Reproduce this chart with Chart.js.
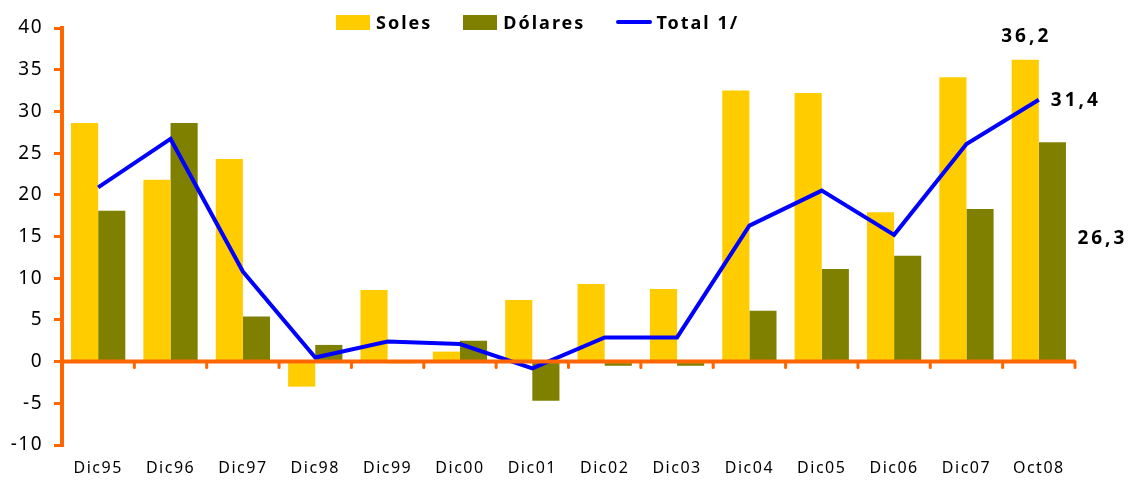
<!DOCTYPE html>
<html lang="es">
<head>
  <meta charset="UTF-8">
  <title>Soles, Dólares y Total</title>
  <script src="https://cdn.jsdelivr.net/npm/chart.js"></script>
  <style>
    body {
      margin: 0;
      background: #fff;
      font-family: "Noto Sans", Arial, sans-serif;
    }
    .wrap {
      position: relative;
      width: 1131px;
      height: 482px;
    }
    .legend {
      position: absolute;
      top: 10px;
      left: 336px;
      display: flex;
      font-weight: bold;
      font-size: 18px;
      letter-spacing: 2px;
      color: #000;
      z-index: 2;
    }
    .legend span.item {
      display: flex;
      align-items: center;
      margin-right: 31px;
    }
    .legend span.box {
      display: inline-block;
      width: 34px;
      height: 15px;
      margin-right: 6px;
    }
    .legend span.ln {
      display: inline-block;
      width: 36px;
      height: 4px;
      border-radius: 2px;
      margin-right: 4px;
      background: #0000ff;
    }
  </style>
</head>
<body>
  <div class="wrap">
    <div class="legend">
      <span class="item"><span class="box" style="background:#ffcc00"></span>Soles</span>
      <span class="item"><span class="box" style="background:#808000"></span>Dólares</span>
      <span class="item"><span class="ln"></span>Total 1/</span>
    </div>
    <canvas id="myChart" width="1131" height="482"></canvas>
  </div>

  <script>
    const categories = ['Dic95', 'Dic96', 'Dic97', 'Dic98', 'Dic99', 'Dic00', 'Dic01',
      'Dic02', 'Dic03', 'Dic04', 'Dic05', 'Dic06', 'Dic07', 'Oct08'];
    const soles = [28.6, 21.8, 24.3, -3.0, 8.6, 1.2, 7.4, 9.3, 8.7, 32.5, 32.2, 17.9, 34.1, 36.2];
    const dolares = [18.1, 28.6, 5.4, 2.0, -0.2, 2.5, -4.7, -0.5, -0.5, 6.1, 11.1, 12.7, 18.3, 26.3];
    const total = [20.9, 26.7, 10.8, 0.5, 2.4, 2.1, -0.8, 2.9, 2.9, 16.3, 20.5, 15.2, 26.1, 31.4];
    const yTicks = [40, 35, 30, 25, 20, 15, 10, 5, 0, -5, -10];

    const orange = '#ff6600';

    // letter spacing like the original, zero line, tick marks and value labels
    const extras = {
      id: 'extras',
      beforeDraw(chart) {
        chart.ctx.letterSpacing = '1.5px';
      },
      afterDatasetsDraw(chart) {
        const ctx = chart.ctx;
        const y = chart.scales.y;
        const y0 = y.getPixelForValue(0);
        const area = chart.chartArea;

        ctx.save();
        ctx.strokeStyle = orange;
        ctx.lineWidth = 4;
        ctx.beginPath();
        ctx.moveTo(area.left, y0);
        ctx.lineTo(area.right, y0);
        ctx.stroke();

        ctx.lineWidth = 3;
        ctx.lineCap = 'round';
        const step = (area.right - area.left) / categories.length;
        for (let i = 1; i <= categories.length; i++) {
          const tx = area.left + step * i;
          ctx.beginPath();
          ctx.moveTo(tx, y0);
          ctx.lineTo(tx, y0 + 6);
          ctx.stroke();
        }

        const last = categories.length - 1;
        const fmt = v => v.toFixed(1).replace('.', ',');
        ctx.fillStyle = '#000';
        ctx.font = 'bold 19px "Noto Sans", sans-serif';
        ctx.letterSpacing = '3px';
        ctx.textBaseline = 'middle';

        const bs = chart.getDatasetMeta(0).data[last];
        ctx.textAlign = 'center';
        ctx.fillText(fmt(soles[last]), bs.x + 1, bs.y - 23);

        const pt = chart.getDatasetMeta(2).data[last];
        ctx.textAlign = 'left';
        ctx.fillText(fmt(total[last]), pt.x + 12, pt.y + 1);

        const bd = chart.getDatasetMeta(1).data[last];
        ctx.fillText(fmt(dolares[last]), bd.x + 25, bd.y + 96);
        ctx.restore();
      }
    };

    const ctx = document.getElementById('myChart').getContext('2d');
    const myChart = new Chart(ctx, {
      type: 'bar',
      data: {
        labels: categories,
        datasets: [{
          label: 'Soles',
          data: soles,
          backgroundColor: '#ffcc00',
          order: 2
        },
        {
          label: 'Dólares',
          data: dolares,
          backgroundColor: '#808000',
          order: 2
        },
        {
          type: 'line',
          label: 'Total 1/',
          data: total,
          borderColor: '#0000ff',
          backgroundColor: '#0000ff',
          borderWidth: 4,
          pointRadius: 0,
          tension: 0,
          order: 1
        }]
      },
      options: {
        responsive: false,
        animation: false,
        layout: {
          padding: { top: 28, right: 56, bottom: 0, left: 4 }
        },
        plugins: {
          legend: { display: false },
          tooltip: { enabled: false }
        },
        datasets: {
          bar: {
            categoryPercentage: 0.75,
            barPercentage: 1.0
          }
        },
        scales: {
          x: {
            grid: { display: false },
            border: { display: false },
            afterFit(scale) {
              scale.height = 37;
            },
            ticks: {
              color: '#000',
              font: { family: '"Noto Sans", sans-serif', size: 16 },
              maxRotation: 0,
              padding: 6
            }
          },
          y: {
            min: -10,
            max: 40,
            afterBuildTicks(scale) {
              scale.ticks = yTicks.map(v => ({ value: v }));
            },
            afterFit(scale) {
              scale.width = 58;
            },
            grid: {
              drawOnChartArea: false,
              color: orange,
              lineWidth: 3,
              tickLength: 8
            },
            border: { color: orange, width: 4 },
            ticks: {
              color: '#000',
              font: { family: '"Noto Sans", sans-serif', size: 19 },
              padding: 11
            }
          }
        }
      },
      plugins: [extras]
    });
  </script>
</body>
</html>
